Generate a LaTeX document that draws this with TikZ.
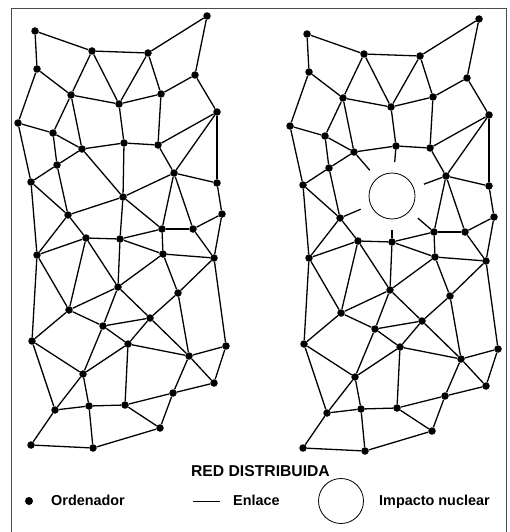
\documentclass[tikz,border=0pt]{standalone}
\usepackage{fontspec}
\setmainfont{Liberation Sans}
\usetikzlibrary{calc}
\begin{document}
\begin{tikzpicture}[x=1pt,y=-1pt,
  dot/.style={circle,fill=black,inner sep=0pt,minimum size=7.5pt},
  link/.style={line width=1.3pt,black},
  thinlink/.style={line width=0.9pt,black},
  ring/.style={draw,circle,inner sep=0pt,line width=0.8pt},
  frameline/.style={line width=1.2pt,black!70},
  lab/.style={font=\bfseries\fontsize{14.4}{16}\selectfont,inner sep=0pt},
  title/.style={font=\bfseries\fontsize{15.7}{18}\selectfont,inner sep=0pt}]
\useasboundingbox (0,0) rectangle (510,532);
% frame (open at the bottom)
\draw[frameline] (11.5,532) -- (11.5,8.5) -- (506.5,8.5) -- (506.5,532);

\def\nodelist{A/35/31, B/92/51, C/148/53, D/207/16, E/37/69, F/71/95,
  G/119/104, H/161/94, I/195/75, J/217/112, K/18/123, L/53/133, M/82/149,
  N/124/143, O/158/145, P/174/173, Q/57/165, R/31/182, S/217/183, T/123/197,
  U/68/215, V/222/214, W/162/229, X/193/229, Y/86/238, Z/120/239,
  AA/37/255, AB/163/254, AC/214/258, AD/118/287, AE/178/293, AF/69/310,
  AG/150/318, AH/103/326, AI/32/341, AJ/128/344, AK/226/346, AL/189/356,
  AM/83/374, AN/214/383, AO/173/393, AP/55/410, AQ/89/406, AR/125/405,
  AS/160/428, AT/31/445, AU/93/448}
\def\edgelist{A/B, A/E, B/C, C/D, D/I, B/F, B/G, C/G, C/H, E/F, E/K, F/G,
  G/H, H/I, I/J, F/L, F/M, G/N, H/O, J/O, J/P, J/S, K/L, K/R, L/M, L/Q,
  M/N, M/Q, N/O, O/P, P/S, P/W, P/X, Q/R, Q/U, R/U, R/AA, S/V, U/Y, U/AA,
  V/X, V/AC, W/X, W/Z, W/AB, X/AC, Y/Z, Y/AA, Y/AF, Y/AD, Z/AD, Z/AB,
  AB/AC, AB/AD, AB/AE, AC/AE, AC/AK, AD/AF, AD/AH, AD/AG, AE/AG, AE/AL,
  AF/AH, AF/AI, AA/AF, AA/AI, AG/AH, AG/AJ, AG/AL, AH/AJ, AH/AM, AI/AM,
  AI/AP, AJ/AM, AJ/AL, AJ/AR, AK/AL, AK/AN, AL/AN, AL/AO, AN/AO, AO/AR,
  AO/AS, AM/AP, AM/AQ, AP/AQ, AP/AT, AQ/AR, AQ/AU, AR/AS, AS/AU, AT/AU}
\def\tlist{M, N, P, U, W, Z}
\def\tname{T}

% left network: all nodes
\foreach \n/\x/\y in \nodelist {\node[dot] (\n) at (\x,\y) {};}
% right network: same nodes shifted, the hit node T removed
\foreach \n/\x/\y in \nodelist {%
  \edef\tmp{\n}%
  \ifx\tmp\tname\else
    \node[dot] (r\n) at ({\x+272},{\y+3}) {};
  \fi}
\node[ring,minimum size=46pt] (impact) at (392,196) {};
\coordinate (rT) at (392,196);

% links
\foreach \a/\b in \edgelist {\draw[link] (\a) -- (\b); \draw[link] (r\a) -- (r\b);}
\foreach \a in \tlist {\draw[link] (\a) -- (T); \draw[link] (r\a) -- ($(rT)!34pt!(r\a)$);}

% legend
\node[title,anchor=base] (ttl) at (260.5,476) {RED DISTRIBUIDA};
\node[dot,minimum size=8pt] (legdot) at (29,501) {};
\node[lab,anchor=base west] (legord) at (51,505.5) {Ordenador};
\coordinate (legl1) at (193,501);
\coordinate (legl2) at (220,501);
\draw[thinlink] (legl1) -- (legl2);
\node[lab,anchor=base west] (legenl) at (233,505.5) {Enlace};
\node[ring,minimum size=45pt] (legcirc) at (341,501) {};
\node[lab,anchor=base west] (legimp) at (379,505.5) {Impacto nuclear};
\end{tikzpicture}
\end{document}
